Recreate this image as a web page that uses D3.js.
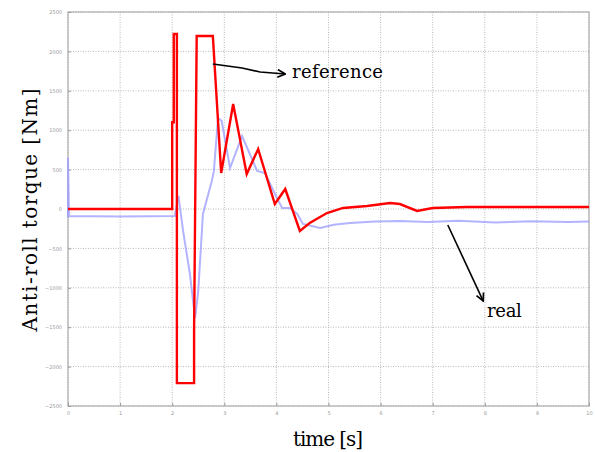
<!DOCTYPE html>
<html>
<head>
<meta charset="utf-8">
<script src="https://cdn.jsdelivr.net/npm/d3@7"></script>
<style>
  body { margin: 0; background: #fff; }
  .grid line { stroke: #b8b8b8; stroke-dasharray: 1,1.5; }
  .tick text { fill: #999; font-family: "DejaVu Sans", sans-serif; font-size: 5px; }
</style>
</head>
<body>
<div id="chart"></div>
<script>
// reference torque (red)
var refTime  = [0, 2.0, 2.0, 2.03, 2.03, 2.09, 2.09, 2.42, 2.42, 2.47, 2.78, 2.94, 3.17, 3.43, 3.65, 3.97, 4.17, 4.45, 4.64, 4.97, 5.28, 5.74, 6.18, 6.37, 6.7, 7.0, 7.66, 10];
var refValue = [0, 0, 1100, 1100, 2220, 2220, -2210, -2210, -1550, 2195, 2195, 457, 1332, 444, 761, 63, 254, -279, -178, -51, 13, 38, 76, 63, -25, 13, 25, 25];

// measured torque (blue)
var realTime  = [0, 0, 0.02, 1.0, 2.05, 2.12, 2.21, 2.34, 2.40, 2.44, 2.50, 2.59, 2.76, 2.80, 2.88, 2.95, 3.11, 3.34, 3.49, 3.63, 3.78, 4.01, 4.11, 4.26, 4.40, 4.51, 4.84, 5.1, 5.41, 5.9, 6.37, 6.9, 7.5, 8.2, 8.9, 9.6, 10];
var realValue = [-110, 650, -90, -95, -89, 165, -280, -825, -1170, -1380, -1040, -63, 355, 480, 1155, 1117, 520, 926, 698, 482, 457, 140, 13, 13, -63, -190, -241, -200, -177, -160, -152, -165, -150, -170, -155, -165, -160];

var yTicks = [-2500, -2000, -1500, -1000, -500, 0, 500, 1000, 1500, 2000, 2500];
var xTicks = [0, 1, 2, 3, 4, 5, 6, 7, 8, 9, 10];

var width = 595, height = 452;
var margin = {top: 12, right: 6, bottom: 46, left: 68};
var w = width - margin.left - margin.right;
var h = height - margin.top - margin.bottom;

var svg = d3.select("#chart").append("svg")
  .attr("width", width)
  .attr("height", height);

var g = svg.append("g")
  .attr("transform", "translate(" + margin.left + "," + margin.top + ")");

var x = d3.scaleLinear().domain([0, 10]).range([0, w]);
var y = d3.scaleLinear().domain([-2500, 2500]).range([h, 0]);

// grid
g.append("g").attr("class", "grid")
  .selectAll("line").data(xTicks).enter().append("line")
  .attr("x1", d => x(d)).attr("x2", d => x(d))
  .attr("y1", 0).attr("y2", h);
g.append("g").attr("class", "grid")
  .selectAll("line").data(yTicks).enter().append("line")
  .attr("x1", 0).attr("x2", w)
  .attr("y1", d => y(d)).attr("y2", d => y(d));

// axes
var xAxis = d3.axisBottom(x).tickValues(xTicks).tickFormat(d3.format("d")).tickSize(-3).tickPadding(5);
var yAxis = d3.axisLeft(y).tickValues(yTicks).tickFormat(d3.format("d")).tickSize(-3).tickPadding(6);

g.append("g").attr("transform", "translate(0," + h + ")").call(xAxis)
  .call(a => a.select(".domain").remove())
  .selectAll("line").attr("stroke", "#999");
g.append("g").call(yAxis)
  .call(a => a.select(".domain").remove())
  .selectAll("line").attr("stroke", "#999");

g.append("rect")
  .attr("width", w).attr("height", h)
  .attr("fill", "none").attr("stroke", "#a0a0a0").attr("stroke-width", 1);

var line = d3.line()
  .x(d => x(d[0]))
  .y(d => y(d[1]));

var realData = realTime.map((t, i) => [t, realValue[i]]);
var refData = refTime.map((t, i) => [t, refValue[i]]);

g.append("path")
  .datum(realData)
  .attr("d", line)
  .attr("fill", "none")
  .attr("stroke", "#9a9aff")
  .attr("stroke-opacity", 0.75)
  .attr("stroke-width", 2);

g.append("path")
  .datum(refData)
  .attr("d", line)
  .attr("fill", "none")
  .attr("stroke", "#ff0000")
  .attr("stroke-width", 2.4);

// annotations
svg.append("defs").append("marker")
  .attr("id", "arrow")
  .attr("viewBox", "0 0 10 10")
  .attr("refX", 9).attr("refY", 5)
  .attr("markerWidth", 6).attr("markerHeight", 6)
  .attr("orient", "auto")
  .append("path")
  .attr("d", "M1,1 L9,5 L1,9")
  .attr("fill", "none").attr("stroke", "#000").attr("stroke-width", 1.8);

var refArrow = [[2.78, 1840], [3.34, 1789], [3.69, 1738], [4.17, 1713]];
var realArrow = [[7.29, -203], [7.97, -1168]];

g.append("path").datum(refArrow).attr("d", line)
  .attr("fill", "none").attr("stroke", "#000").attr("stroke-width", 1.6)
  .attr("marker-end", "url(#arrow)");
g.append("path").datum(realArrow).attr("d", line)
  .attr("fill", "none").attr("stroke", "#000").attr("stroke-width", 1.6)
  .attr("marker-end", "url(#arrow)");

g.append("text")
  .attr("x", x(4.30)).attr("y", y(1662))
  .attr("font-family", "DejaVu Serif, serif")
  .attr("font-size", "18px")
  .attr("textLength", 91)
  .text("reference");

g.append("text")
  .attr("x", x(8.04)).attr("y", y(-1370))
  .attr("font-family", "DejaVu Serif, serif")
  .attr("font-size", "18px")
  .attr("textLength", 35)
  .text("real");

// axis labels
svg.append("text")
  .attr("transform", "translate(37,210) rotate(-90)")
  .attr("text-anchor", "middle")
  .attr("font-family", "DejaVu Serif, serif")
  .attr("font-size", "20px")
  .attr("textLength", 243)
  .text("Anti-roll torque [Nm]");

svg.append("text")
  .attr("x", 328).attr("y", 446)
  .attr("text-anchor", "middle")
  .attr("font-family", "DejaVu Serif, serif")
  .attr("font-size", "20px")
  .attr("textLength", 70)
  .text("time [s]");
</script>
</body>
</html>
